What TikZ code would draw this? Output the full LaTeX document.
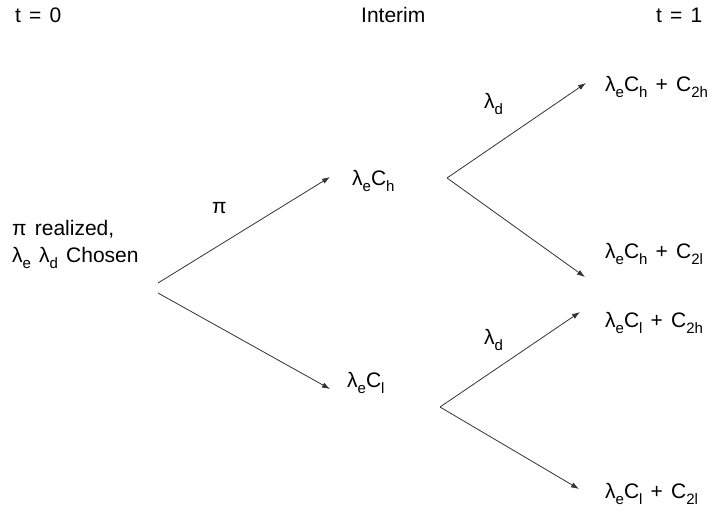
\documentclass[tikz,border=0pt]{standalone}
\usepackage{fontspec}
\setmainfont[WordSpace=1.4]{Liberation Sans}
\usetikzlibrary{arrows.meta}
\newcommand\sbx[1]{\raisebox{-0.55ex}{\fontsize{15}{15}\selectfont #1}}
\begin{document}
\begin{tikzpicture}[x=1pt,y=-1pt,
  lbl/.style={anchor=base west,inner sep=0pt,font=\fontsize{21}{25}\selectfont},
  conn/.style={draw=black!80,line width=0.8pt,-{Latex[length=8pt,width=5.5pt]}},
  ]
\useasboundingbox (0,0) rectangle (708,511);
% headings
\node[lbl] (h0) at (15,23) {t = 0};
\node[lbl] (h1) at (361,23) {Interim};
\node[lbl] (h2) at (656,23) {t = 1};
% root
\node[lbl] (r1) at (12,235) {π realized,};
\node[lbl] (r2) at (12,262) {λ\sbx{e} λ\sbx{d} Chosen};
\coordinate (ra) at (158,283);
\coordinate (rb) at (158,293);
% middle
\node[lbl] (mh) at (352,185) {λ\sbx{e}C\sbx{h}};
\node[lbl] (ml) at (347,387) {λ\sbx{e}C\sbx{l}};
\coordinate (mha) at (447,178);
\coordinate (mla) at (440,407);
% right
\node[lbl] (e1) at (605,91) {λ\sbx{e}C\sbx{h} + C\sbx{2h}};
\node[lbl] (e2) at (605,258) {λ\sbx{e}C\sbx{h} + C\sbx{2l}};
\node[lbl] (e3) at (605,327) {λ\sbx{e}C\sbx{l} + C\sbx{2h}};
\node[lbl] (e4) at (605,498) {λ\sbx{e}C\sbx{l} + C\sbx{2l}};
% edge labels
\node[lbl] (pi) at (212,213) {π};
\node[lbl] (ld1) at (484,108) {λ\sbx{d}};
\node[lbl] (ld2) at (484,344) {λ\sbx{d}};
% connectors
\coordinate (t1) at (330,177);
\coordinate (t2) at (330,389);
\coordinate (t3) at (586,83);
\coordinate (t4) at (585,277);
\coordinate (t5) at (580,312);
\coordinate (t6) at (579,489);
\draw[conn] (ra) -- (t1);
\draw[conn] (rb) -- (t2);
\draw[conn] (mha) -- (t3);
\draw[conn] (mha) -- (t4);
\draw[conn] (mla) -- (t5);
\draw[conn] (mla) -- (t6);
\end{tikzpicture}
\end{document}
